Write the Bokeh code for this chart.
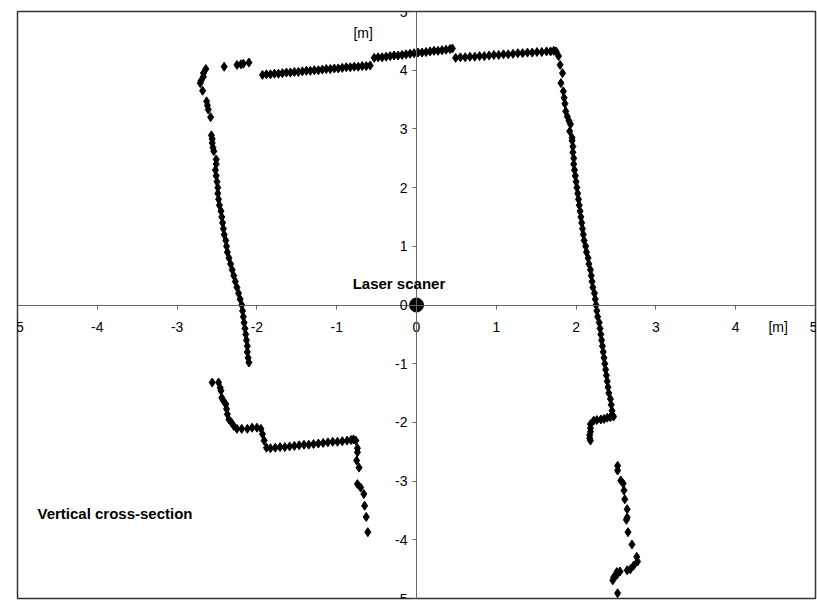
from bokeh.plotting import figure
from bokeh.models import Range1d, FixedTicker, Label, PrintfTickFormatter
from bokeh.embed import file_html
from bokeh.resources import INLINE

# ---- data (metres) ----
# left wall, sparse upper part
lw_top_x = [-2.64, -2.67, -2.67, -2.70, -2.71, -2.68, -2.63, -2.62, -2.61, -2.58,
            -2.57, -2.56, -2.56, -2.55, -2.54, -2.51]
lw_top_y = [4.02, 3.95, 3.89, 3.82, 3.78, 3.65, 3.47, 3.40, 3.33, 3.20,
            2.89, 2.83, 2.76, 2.68, 2.62, 2.48]
# left wall, dense part
lw_x = [-2.51, -2.52, -2.51, -2.50, -2.49, -2.49, -2.48, -2.47, -2.45, -2.44,
        -2.43, -2.42, -2.41, -2.39, -2.38, -2.37, -2.35, -2.33, -2.31, -2.29,
        -2.27, -2.25, -2.23, -2.21, -2.19, -2.18, -2.17, -2.16, -2.15, -2.14,
        -2.13, -2.12, -2.12, -2.11, -2.10]
lw_y = [2.40, 2.30, 2.20, 2.10, 2.00, 1.90, 1.80, 1.70, 1.60, 1.50,
        1.40, 1.30, 1.20, 1.10, 1.00, 0.90, 0.80, 0.70, 0.60, 0.50,
        0.40, 0.30, 0.20, 0.10, 0.00, -0.10, -0.20, -0.30, -0.40, -0.50,
        -0.60, -0.70, -0.80, -0.90, -0.98]
# ceiling, isolated points
c1_x = [-2.41, -2.25, -2.20, -2.17, -2.10]
c1_y = [4.06, 4.09, 4.10, 4.11, 4.13]
# ceiling segment 2
c2_x = [-1.93, -1.88, -1.83, -1.78, -1.73, -1.68, -1.63, -1.58, -1.53, -1.48,
        -1.43, -1.38, -1.33, -1.28, -1.23, -1.18, -1.13, -1.08, -1.03, -0.98,
        -0.93, -0.88, -0.83, -0.78, -0.73, -0.68, -0.63, -0.58]
c2_y = [3.92, 3.93, 3.93, 3.94, 3.94, 3.95, 3.96, 3.96, 3.97, 3.97,
        3.98, 3.99, 3.99, 4.00, 4.00, 4.01, 4.02, 4.02, 4.03, 4.03,
        4.04, 4.05, 4.05, 4.06, 4.06, 4.07, 4.07, 4.08]
# ceiling segment 3
c3_x = [-0.53, -0.48, -0.43, -0.38, -0.33, -0.28, -0.23, -0.18, -0.13, -0.08,
        -0.03, 0.02, 0.07, 0.12, 0.17, 0.22, 0.27, 0.32, 0.37, 0.42, 0.45]
c3_y = [4.21, 4.22, 4.22, 4.23, 4.24, 4.25, 4.25, 4.26, 4.27, 4.28,
        4.29, 4.30, 4.30, 4.31, 4.32, 4.33, 4.33, 4.34, 4.35, 4.36, 4.37]
# ceiling segment 4
c4_x = [0.49, 0.55, 0.61, 0.67, 0.73, 0.79, 0.85, 0.91, 0.97, 1.03,
        1.09, 1.15, 1.21, 1.27, 1.33, 1.39, 1.45, 1.51, 1.57, 1.63, 1.68, 1.72]
c4_y = [4.21, 4.22, 4.22, 4.23, 4.23, 4.24, 4.24, 4.25, 4.26, 4.26,
        4.27, 4.27, 4.28, 4.29, 4.29, 4.30, 4.30, 4.31, 4.31, 4.32, 4.32, 4.33]
# right wall, sparse upper part
rw_top_x = [1.75, 1.78, 1.80, 1.83, 1.81, 1.84, 1.85, 1.86, 1.87, 1.89, 1.91, 1.93, 1.92, 1.95]
rw_top_y = [4.32, 4.24, 4.09, 3.95, 3.78, 3.64, 3.53, 3.43, 3.30, 3.21, 3.14, 3.08, 2.96, 2.85]
# right wall, dense part
rw_x = [1.95, 1.96, 1.96, 1.97, 1.97, 1.98, 1.99, 2.00, 2.01, 2.02,
        2.03, 2.04, 2.05, 2.06, 2.07, 2.08, 2.09, 2.10, 2.12, 2.13,
        2.15, 2.16, 2.18, 2.19, 2.20, 2.21, 2.23, 2.24, 2.25, 2.26,
        2.27, 2.29, 2.30, 2.31, 2.32, 2.33, 2.34, 2.35, 2.36, 2.37,
        2.38, 2.39, 2.40, 2.41, 2.43, 2.44, 2.45, 2.47]
rw_y = [2.80, 2.70, 2.60, 2.50, 2.40, 2.30, 2.20, 2.10, 2.00, 1.90,
        1.80, 1.70, 1.60, 1.50, 1.40, 1.30, 1.20, 1.10, 1.00, 0.90,
        0.80, 0.70, 0.60, 0.50, 0.40, 0.30, 0.20, 0.10, 0.00, -0.10,
        -0.20, -0.30, -0.40, -0.50, -0.60, -0.70, -0.80, -0.90, -1.00, -1.10,
        -1.20, -1.30, -1.40, -1.50, -1.60, -1.70, -1.80, -1.90]
# right wall, step at the bottom
rs_x = [2.43, 2.39, 2.35, 2.31, 2.26, 2.22, 2.18, 2.18, 2.18, 2.17, 2.17, 2.18]
rs_y = [-1.91, -1.92, -1.94, -1.95, -1.96, -1.97, -2.03, -2.10, -2.16, -2.22, -2.27, -2.31]
# right, lower section
rl_x = [2.52, 2.52, 2.56, 2.59, 2.60, 2.61, 2.64, 2.64, 2.63, 2.65, 2.70, 2.76,
        2.77, 2.72, 2.68, 2.64, 2.55, 2.51, 2.51, 2.47, 2.46, 2.52]
rl_y = [-2.74, -2.82, -2.99, -3.04, -3.16, -3.31, -3.48, -3.62, -3.66, -3.87, -4.08, -4.29,
        -4.37, -4.44, -4.50, -4.52, -4.54, -4.55, -4.60, -4.64, -4.69, -4.91]
# left, lower section (stairs)
ll_x = [-2.56, -2.48, -2.46, -2.45, -2.44, -2.42, -2.39, -2.38, -2.37, -2.35,
        -2.32, -2.29, -2.25, -2.19, -2.12, -2.06, -2.00, -1.95, -1.93, -1.91, -1.88]
ll_y = [-1.32, -1.32, -1.41, -1.46, -1.58, -1.63, -1.69, -1.77, -1.86, -1.95,
        -2.00, -2.06, -2.11, -2.11, -2.11, -2.09, -2.09, -2.11, -2.20, -2.31, -2.43]
lf_x = [-1.83, -1.77, -1.71, -1.65, -1.59, -1.53, -1.47, -1.41, -1.35, -1.29,
        -1.23, -1.17, -1.11, -1.05, -0.99, -0.93, -0.87, -0.82, -0.79]
lf_y = [-2.44, -2.43, -2.42, -2.42, -2.41, -2.40, -2.39, -2.38, -2.38, -2.37,
        -2.36, -2.35, -2.34, -2.33, -2.33, -2.32, -2.31, -2.30, -2.29]
ld_x = [-0.76, -0.74, -0.74, -0.75, -0.72, -0.74, -0.70, -0.66, -0.65, -0.63, -0.61]
ld_y = [-2.31, -2.44, -2.51, -2.65, -2.77, -3.05, -3.11, -3.22, -3.42, -3.61, -3.87]

ticks = [-5, -4, -3, -2, -1, 0, 1, 2, 3, 4, 5]
scanner_x = [0.0]
scanner_y = [0.0]

xs = (lw_top_x + lw_x + c1_x + c2_x + c3_x + c4_x + rw_top_x + rw_x + rs_x + rl_x
      + ll_x + lf_x + ld_x)
ys = (lw_top_y + lw_y + c1_y + c2_y + c3_y + c4_y + rw_top_y + rw_y + rs_y + rl_y
      + ll_y + lf_y + ld_y)

FONT = "Liberation Sans"

p = figure(width=817, height=603, output_backend="svg", toolbar_location=None,
           x_range=Range1d(-5, 5), y_range=Range1d(-5, 5),
           min_border_left=17, min_border_right=2, min_border_top=11, min_border_bottom=5)
p.grid.visible = False
p.outline_line_color = "#333333"
p.outline_line_width = 1.5
p.background_fill_color = "white"
p.border_fill_color = "white"

for ax in (p.xaxis[0], p.yaxis[0]):
    ax.fixed_location = 0
    ax.ticker = FixedTicker(ticks=ticks)
    ax.formatter = PrintfTickFormatter(format="%d")
    ax.axis_line_color = "#666666"
    ax.axis_line_width = 1
    ax.major_tick_line_color = "#666666"
    ax.major_tick_in = 0
    ax.major_tick_out = 4
    ax.minor_tick_line_color = None
    ax.major_label_text_font = FONT
    ax.major_label_text_font_size = "14px"
    ax.major_label_text_color = "black"
p.xaxis.major_label_standoff = 13
p.yaxis.major_label_standoff = 5

p.scatter(xs, ys, marker="diamond", size=9, color="black")
p.scatter(scanner_x, scanner_y, marker="circle", size=14, color="black")

p.add_layout(Label(x=-0.79, y=4.64, text="[m]", text_font=FONT, text_font_size="14px",
                   text_color="black", text_baseline="middle"))
p.add_layout(Label(x=4.41, y=-0.37, text="[m]", text_font=FONT, text_font_size="14px",
                   text_color="black", text_baseline="middle"))
p.add_layout(Label(x=-0.80, y=0.37, text="Laser scaner", text_font=FONT, text_color="black",
                   text_font_size="15px", text_font_style="bold", text_baseline="middle"))
p.add_layout(Label(x=-4.75, y=-3.55, text="Vertical cross-section", text_font=FONT,
                   text_color="black", text_font_size="15px", text_font_style="bold",
                   text_baseline="middle"))

open("out.html", "w").write(file_html(p, INLINE))
